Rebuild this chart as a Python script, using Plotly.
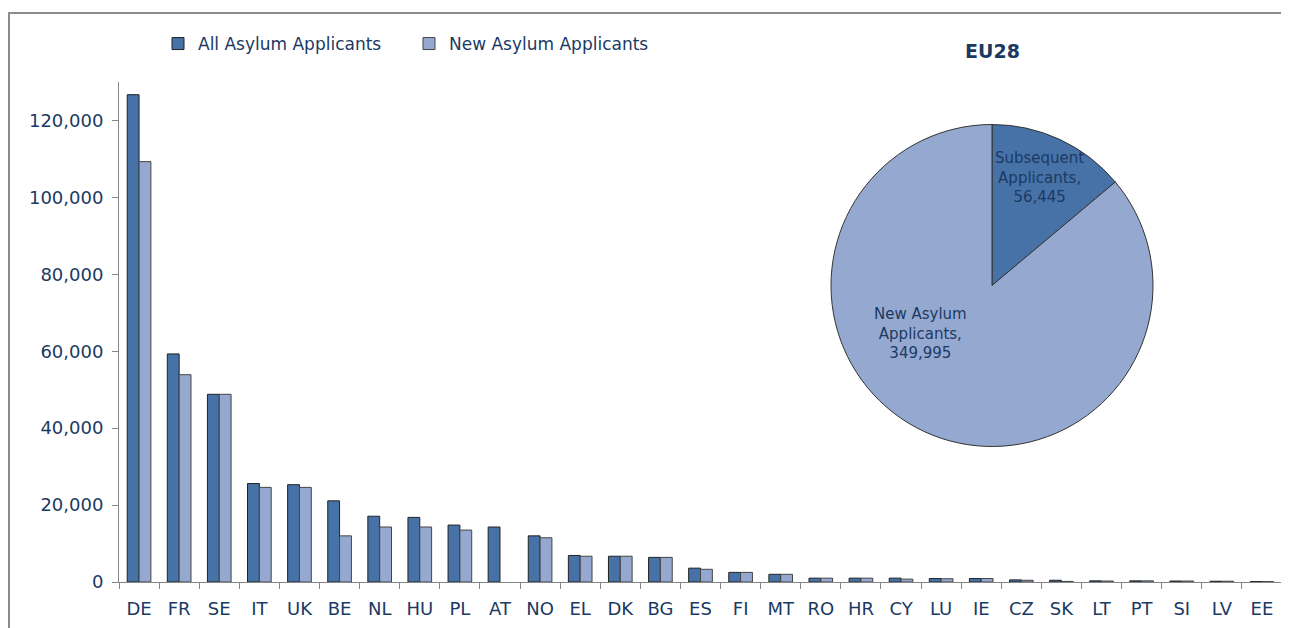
import plotly.graph_objects as go

countries = ["DE", "FR", "SE", "IT", "UK", "BE", "NL", "HU", "PL", "AT",
             "NO", "EL", "DK", "BG", "ES", "FI", "MT", "RO", "HR", "CY",
             "LU", "IE", "CZ", "SK", "LT", "PT", "SI", "LV", "EE"]
all_applicants = [126700, 59300, 48800, 25600, 25300, 21100, 17100, 16800, 14800, 14300,
                  12000, 6900, 6700, 6400, 3600, 2500, 2000, 1000, 1000, 1000,
                  900, 900, 550, 450, 300, 300, 250, 200, 100]
new_applicants = [109300, 53900, 48800, 24600, 24600, 12000, 14300, 14300, 13500, None,
                  11500, 6700, 6700, 6400, 3300, 2500, 2000, 1000, 1000, 750,
                  850, 900, 450, 150, 250, 300, 250, 200, 100]

pie_labels = ["Subsequent Applicants", "New Asylum Applicants"]
pie_values = [56445, 349995]
pie_title = "EU28"

NAVY = "#1b3a63"
DARK = "#4672a8"
LIGHT = "#95a9d0"
GRID = "#868686"
FONT = "DejaVu Sans"

# the page body adds an 8px margin; work in reference-window coordinates
OFF = 8
W, H = 1289 - OFF, 628 - OFF
PL_, PR_, PT_, PB_ = 119, 1282, 82, 582   # plot area in reference coords
L, R, T, B = PL_ - OFF, W - (PR_ - OFF), PT_ - OFF, H - (PB_ - OFF)
PW, PH = W - L - R, H - T - B


def px(x):
    return (x - PL_) / PW


def py(y):
    return (PB_ - y) / PH


fig = go.Figure()
fig.add_trace(go.Bar(
    x=countries, y=all_applicants, name="All Asylum Applicants",
    marker=dict(color=DARK, line=dict(color="#222222", width=1)),
))
fig.add_trace(go.Bar(
    x=countries, y=new_applicants, name="New Asylum Applicants",
    marker=dict(color=LIGHT, line=dict(color="#444444", width=1)),
))

# pie
cx, cy, r = 992, 285.5, 161
fig.add_trace(go.Pie(
    labels=pie_labels, values=pie_values, sort=False, direction="clockwise",
    rotation=0, textinfo="none", hoverinfo="label+value", showlegend=False,
    marker=dict(colors=[DARK, LIGHT], line=dict(color="#333333", width=1)),
    domain=dict(x=[px(cx - r), px(cx + r)], y=[py(cy + r), py(cy - r)]),
))


def fmt_label(label, value):
    words = label.split(" ")
    if label.startswith("New"):
        first, second = " ".join(words[:2]), words[2]
    else:
        first, second = words[0], words[1]
    return f"{first}<br>{second},<br>{value:,}"


annotations = [
    dict(text=f"<b>{pie_title}</b>", x=px(992), y=py(51), xref="paper", yref="paper",
         showarrow=False, font=dict(size=19, color=NAVY, family=FONT), xanchor="center", yanchor="middle"),
    dict(text=fmt_label(pie_labels[0], pie_values[0]), x=px(1039), y=py(178), xref="paper", yref="paper",
         showarrow=False, font=dict(size=15, color=NAVY, family=FONT), xanchor="center", yanchor="middle",
         align="center"),
    dict(text=fmt_label(pie_labels[1], pie_values[1]), x=px(920), y=py(333), xref="paper", yref="paper",
         showarrow=False, font=dict(size=15, color=NAVY, family=FONT), xanchor="center", yanchor="middle",
         align="center"),
]

fig.update_layout(
    width=W, height=H,
    margin=dict(l=L, r=R, t=T, b=B, autoexpand=False),
    paper_bgcolor="white", plot_bgcolor="white",
    font=dict(family=FONT, color=NAVY, size=18),
    barmode="group", bargap=0.41, bargroupgap=0,
    legend=dict(orientation="h", x=px(158), y=py(44), xanchor="left", yanchor="middle",
                font=dict(size=17, color=NAVY, family=FONT), bgcolor="rgba(0,0,0,0)",
                entrywidth=206, entrywidthmode="pixels", itemclick=False),
    xaxis=dict(showline=True, linecolor=GRID, linewidth=1, ticks="outside", tickson="boundaries",
               ticklen=6, tickcolor=GRID, showgrid=False, tickfont=dict(size=18, color=NAVY),
               range=[-0.5, len(countries) - 0.5], ticklabelstandoff=10),
    yaxis=dict(range=[0, 130000], dtick=20000, tickformat=",", showline=True, linecolor=GRID,
               linewidth=1, ticks="outside", ticklen=6, tickcolor=GRID, showgrid=False,
               tickfont=dict(size=18, color=NAVY), zeroline=False, ticklabelstandoff=5),
    annotations=annotations,
    shapes=[dict(type="rect", xref="paper", yref="paper",
                 x0=px(9), x1=px(1300), y0=py(650), y1=py(13),
                 line=dict(color="#8c8c8c", width=2), layer="below")],
)

fig.write_html("out.html")
